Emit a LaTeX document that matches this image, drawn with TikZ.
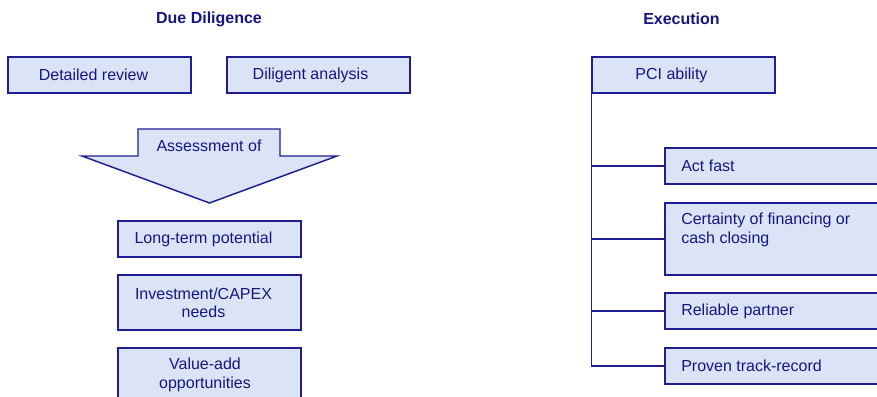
\documentclass[tikz,border=0pt]{standalone}
\usepackage{fontspec}
\setmainfont{Liberation Sans}
\usetikzlibrary{calc,fit}
\definecolor{navy}{RGB}{22,22,130}
\definecolor{edge}{RGB}{30,30,145}
\definecolor{panel}{RGB}{219,228,247}
\begin{document}
\begin{tikzpicture}[x=0.75pt,y=-0.75pt,
  every node/.style={font=\fontsize{12pt}{13.8pt}\selectfont, text=navy},
  box/.style={draw=edge, fill=panel, line width=1.1pt, inner sep=0pt, rectangle},
  txt/.style={inner sep=0pt, align=center},
  ltxt/.style={inner sep=0pt, align=left, anchor=west},
  head/.style={font=\fontsize{12pt}{13.8pt}\selectfont\bfseries},
  link/.style={draw=edge, line width=1.1pt}]
\useasboundingbox (0,0) rectangle (877,396);
\clip (0,0) rectangle (877,396);

% column headings
\node[head] (hdd) at (209,19) {Due Diligence};
\node[head] (hex) at (681.5,19) {Execution};

% --- due diligence column ---
\node[box, fit={(8,57) (191,93)}] (review) {};
\node[txt] (reviewt) at ($(review.center)+(-6,0)$) {Detailed review};
\node[box, fit={(227,57) (410,93)}] (analysis) {};
\node[txt] (analysist) at ($(analysis.center)+(-8,0)$) {Diligent analysis};

% block arrow
\draw[box] (138,129) -- (280,129) -- (280,156) -- (337,156) -- (209.5,203)
  -- (82,156) -- (138,156) -- cycle;
\node[txt] (assess) at (209,146) {Assessment of};

\node[box, fit={(118,221) (301,257)}] (longterm) {};
\node[txt] (longtermt) at ($(longterm.center)+(-6,0)$) {Long-term potential};
\node[box, fit={(118,275) (301,330)}] (capex) {};
\node[txt] (capext) at ($(capex.center)+(-6,0)$) {Investment/CAPEX\\needs};
\node[box, fit={(118,348) (301,410)}] (valueadd) {};
\node[txt] (valueaddt) at (205,375) {Value-add\\opportunities};

% --- execution column ---
\node[box, fit={(592,57) (775,93)}] (pci) {};
\node[txt] (pcit) at ($(pci.center)+(-12,0)$) {PCI ability};

\node[box, fit={(665,148) (900,184)}] (act) {};
\node[ltxt] (actt) at (681,166) {Act fast};
\node[box, fit={(665,203) (900,275)}] (cert) {};
\node[ltxt] (certt) at (681,230) {Certainty of financing or\\cash closing};
\node[box, fit={(665,293) (900,329)}] (reliable) {};
\node[ltxt] (reliablet) at (681,311) {Reliable partner};
\node[box, fit={(665,348) (900,384)}] (proven) {};
\node[ltxt] (provent) at (681,366) {Proven track-record};

% tree connectors
\draw[link] (pci.south west) |- (proven.west);
\draw[link] (pci.south west |- act.west) -- (act.west);
\draw[link] (pci.south west |- cert.west) -- (cert.west);
\draw[link] (pci.south west |- reliable.west) -- (reliable.west);
\end{tikzpicture}
\end{document}
